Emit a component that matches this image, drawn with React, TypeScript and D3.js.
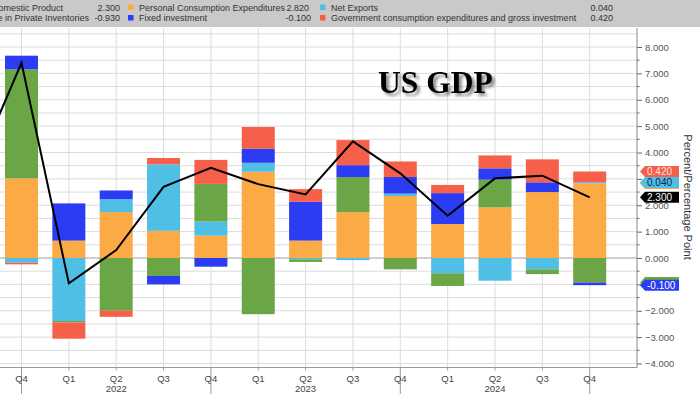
import React, { useRef, useEffect } from "react";
import {
  select,
  scaleLinear,
  stack,
  stackOffsetDiverging,
  line,
  range,
  axisRight,
  format,
} from "d3";

// quarters Q4 2021 .. Q4 2024
const quarters = ["Q4", "Q1", "Q2", "Q3", "Q4", "Q1", "Q2", "Q3", "Q4", "Q1", "Q2", "Q3", "Q4"];
const years = ["2022", "2023", "2024"];
const yearAt = [2, 6, 10];

// contributions to growth, percentage points
const pce = [3.02, 0.66, 1.74, 1.03, 0.85, 3.27, 0.66, 1.74, 2.35, 1.29, 1.92, 2.5, 2.82];
const netExports = [-0.18, -2.39, 0.49, 2.52, 0.53, 0.34, -0.05, -0.08, 0.09, -0.58, -0.86, -0.43, 0.04];
const inventories = [4.13, -0.05, -2.0, -0.68, 1.43, -2.13, -0.1, 1.33, -0.43, -0.48, 1.05, -0.18, -0.93];
const fixedInvestment = [0.52, 1.41, 0.33, -0.32, -0.33, 0.53, 1.47, 0.45, 0.63, 1.17, 0.43, 0.37, -0.1];
const government = [-0.06, -0.62, -0.23, 0.24, 0.91, 0.83, 0.48, 0.95, 0.59, 0.31, 0.49, 0.87, 0.42];
// GDP Q3 2021 .. Q4 2024 (first point is off the left edge)
const gdp = [3.2, 7.4, -0.96, 0.3, 2.7, 3.42, 2.8, 2.41, 4.42, 3.21, 1.6, 3.02, 3.12, 2.3];

const seriesKeys = ["pce", "netExports", "inventories", "fixedInvestment", "government"];
const seriesColors = {
  pce: "#fbaa45",
  netExports: "#4fbfe5",
  inventories: "#6aa645",
  fixedInvestment: "#2b3cf3",
  government: "#f6604b",
};

const W = 700;
const H = 394;
const axisX = 637;
const plotTop = 28;
const plotBottom = 367.5;
const font = "'Liberation Sans', Arial, sans-serif";

function App() {
  const svgRef = useRef(null);

  useEffect(() => {
    const svg = select(svgRef.current);
    svg.selectAll("*").remove();

    const x = scaleLinear().domain([0, 12]).range([21.5, 589.7]);
    const y = scaleLinear().domain([-4, 8]).range([363.5, 47]);
    const barW = 33;

    const rows = quarters.map((q, i) => ({
      i,
      pce: pce[i],
      netExports: netExports[i],
      inventories: inventories[i],
      fixedInvestment: fixedInvestment[i],
      government: government[i],
    }));
    const stacked = stack().keys(seriesKeys).offset(stackOffsetDiverging)(rows);

    const defs = svg.append("defs");
    const f = defs.append("filter").attr("id", "shadow").attr("x", "-20%").attr("y", "-20%").attr("width", "150%").attr("height", "160%");
    f.append("feDropShadow").attr("dx", 3).attr("dy", 3).attr("stdDeviation", 1.6).attr("flood-color", "#000").attr("flood-opacity", 0.45);

    svg.append("rect").attr("width", W).attr("height", H).attr("fill", "#fff");

    // horizontal grid every 0.5
    svg
      .append("g")
      .selectAll("line")
      .data(range(-4, 8.51, 0.5))
      .join("line")
      .attr("x1", 0)
      .attr("x2", axisX)
      .attr("y1", (d) => y(d))
      .attr("y2", (d) => y(d))
      .attr("stroke", (d) => (d === 0 ? "#a0a0a0" : "#dcdcdc"))
      .attr("stroke-width", (d) => (d === 0 ? 1.2 : 1));

    // vertical grid at quarters
    svg
      .append("g")
      .selectAll("line")
      .data(range(0, 13))
      .join("line")
      .attr("x1", (d) => x(d))
      .attr("x2", (d) => x(d))
      .attr("y1", plotTop)
      .attr("y2", plotBottom)
      .attr("stroke", "#dcdcdc");

    // bars
    svg
      .append("g")
      .selectAll("g")
      .data(stacked)
      .join("g")
      .attr("fill", (s) => seriesColors[s.key])
      .selectAll("rect")
      .data((s) => s)
      .join("rect")
      .attr("x", (d) => x(d.data.i) - barW / 2)
      .attr("width", barW)
      .attr("y", (d) => y(Math.max(d[0], d[1])))
      .attr("height", (d) => Math.abs(y(d[0]) - y(d[1])));

    // GDP line
    const gdpLine = line()
      .x((d, i) => x(i - 1))
      .y((d) => y(d));
    svg
      .append("path")
      .datum(gdp)
      .attr("d", gdpLine)
      .attr("fill", "none")
      .attr("stroke", "#000")
      .attr("stroke-width", 2);

    // bottom border and x labels
    svg
      .append("line")
      .attr("x1", 0)
      .attr("x2", axisX)
      .attr("y1", plotBottom)
      .attr("y2", plotBottom)
      .attr("stroke", "#9a9a9a");

    const xg = svg.append("g").attr("font-family", font).attr("font-size", 9.5).attr("fill", "#444");
    xg.selectAll("line")
      .data(range(0, 13))
      .join("line")
      .attr("x1", (d) => x(d))
      .attr("x2", (d) => x(d))
      .attr("y1", plotBottom)
      .attr("y2", (d) => (quarters[d] === "Q4" ? H : plotBottom + 3))
      .attr("stroke", "#9a9a9a");
    xg.selectAll("text.q")
      .data(quarters)
      .join("text")
      .attr("class", "q")
      .attr("x", (d, i) => x(i))
      .attr("y", 382)
      .attr("text-anchor", "middle")
      .text((d) => d);
    xg.selectAll("text.yr")
      .data(years)
      .join("text")
      .attr("class", "yr")
      .attr("x", (d, i) => x(yearAt[i]))
      .attr("y", 392)
      .attr("text-anchor", "middle")
      .text((d) => d);

    // right axis
    const ax = svg
      .append("g")
      .attr("transform", `translate(${axisX},0)`)
      .call(
        axisRight(y)
          .tickValues(range(-4, 9))
          .tickSize(5)
          .tickPadding(3)
          .tickFormat(format(".3f"))
      );
    ax.select(".domain").remove();
    ax.selectAll("line").attr("stroke", "#666");
    ax.selectAll("text").attr("font-family", font).attr("font-size", 9.5).attr("fill", "#555");
    ax.append("line").attr("y1", plotTop).attr("y2", plotBottom).attr("stroke", "#888");
    ax.selectAll("line.minor")
      .data(range(-3.5, 8.5, 1))
      .join("line")
      .attr("class", "minor")
      .attr("x1", 0)
      .attr("x2", 2.5)
      .attr("y1", (d) => y(d))
      .attr("y2", (d) => y(d))
      .attr("stroke", "#666");

    svg
      .append("text")
      .attr("transform", `translate(684,197) rotate(90)`)
      .attr("text-anchor", "middle")
      .attr("font-family", font)
      .attr("font-size", 11)
      .attr("fill", "#333")
      .text("Percent/Percentage Point");

    // last value tags (pce and inventories sit behind the others)
    const lastTop = (key) => {
      const s = stacked.find((d) => d.key === key)[12];
      return s[0] < 0 || s[1] < 0 ? Math.min(s[0], s[1]) : s[1];
    };
    const tagData = [
      { v: lastTop("pce"), label: "", fill: seriesColors.pce, color: "#fff" },
      { v: lastTop("inventories"), label: "", fill: seriesColors.inventories, color: "#fff" },
      { v: lastTop("government"), label: "0.420", fill: seriesColors.government, color: "#fde2dc" },
      { v: lastTop("netExports"), label: "0.040", fill: seriesColors.netExports, color: "#0b2455" },
      { v: gdp[gdp.length - 1], label: "2.300", fill: "#000", color: "#fff" },
      { v: lastTop("fixedInvestment"), label: "-0.100", fill: seriesColors.fixedInvestment, color: "#fff" },
    ];
    const tags = svg
      .append("g")
      .selectAll("g")
      .data(tagData)
      .join("g")
      .attr("transform", (d) => `translate(640,${y(d.v)})`);
    tags
      .append("path")
      .attr("d", "M0,0 L5,-5.5 L39,-5.5 L39,5.5 L5,5.5 Z")
      .attr("fill", (d) => d.fill);
    tags
      .filter((d) => d.label)
      .append("text")
      .attr("x", 7)
      .attr("y", 3.6)
      .attr("font-family", font)
      .attr("font-size", 10)
      .attr("fill", (d) => d.color)
      .text((d) => d.label);

    // title
    svg
      .append("text")
      .attr("x", 378)
      .attr("y", 92.5)
      .attr("font-family", "'Liberation Serif', 'Times New Roman', serif")
      .attr("font-weight", "bold")
      .attr("font-size", 31.5)
      .attr("fill", "#000")
      .attr("filter", "url(#shadow)")
      .text("US GDP");

    // legend band
    const lg = svg.append("g").attr("font-family", font).attr("font-size", 9).attr("fill", "#333");
    lg.append("rect").attr("width", W).attr("height", 27).attr("fill", "#c9c9c9");
    const legendRows = [
      [
        { name: "Gross Domestic Product", value: "2.300", color: "#000", nameEnd: 63, valueEnd: 120, sq: -60 },
        { name: "Personal Consumption Expenditures", value: "2.820", color: seriesColors.pce, sq: 128, valueEnd: 309 },
        { name: "Net Exports", value: "0.040", color: seriesColors.netExports, sq: 320, valueEnd: 613 },
      ],
      [
        { name: "Change in Private Inventories", value: "-0.930", color: seriesColors.inventories, nameEnd: 89, valueEnd: 120, sq: -60 },
        { name: "Fixed investment", value: "-0.100", color: seriesColors.fixedInvestment, sq: 128, valueEnd: 311 },
        { name: "Government consumption expenditures and gross investment", value: "0.420", color: seriesColors.government, sq: 320, valueEnd: 613 },
      ],
    ];
    legendRows.forEach((row, r) => {
      const cy = 7.5 + r * 10.5;
      row.forEach((item) => {
        lg.append("rect")
          .attr("x", item.sq)
          .attr("y", cy - 3)
          .attr("width", 5.5)
          .attr("height", 5.5)
          .attr("fill", item.color);
        if (item.nameEnd) {
          lg.append("text").attr("x", item.nameEnd).attr("y", cy + 3.2).attr("text-anchor", "end").text(item.name);
        } else {
          lg.append("text").attr("x", item.sq + 11).attr("y", cy + 3.2).text(item.name);
        }
        lg.append("text").attr("x", item.valueEnd).attr("y", cy + 3.2).attr("text-anchor", "end").text(item.value);
      });
    });
  }, []);

  return (
    <svg
      ref={svgRef}
      width={W}
      height={H}
      style={{ position: "absolute", left: 0, top: 0, display: "block" }}
    />
  );
}

export default App;
